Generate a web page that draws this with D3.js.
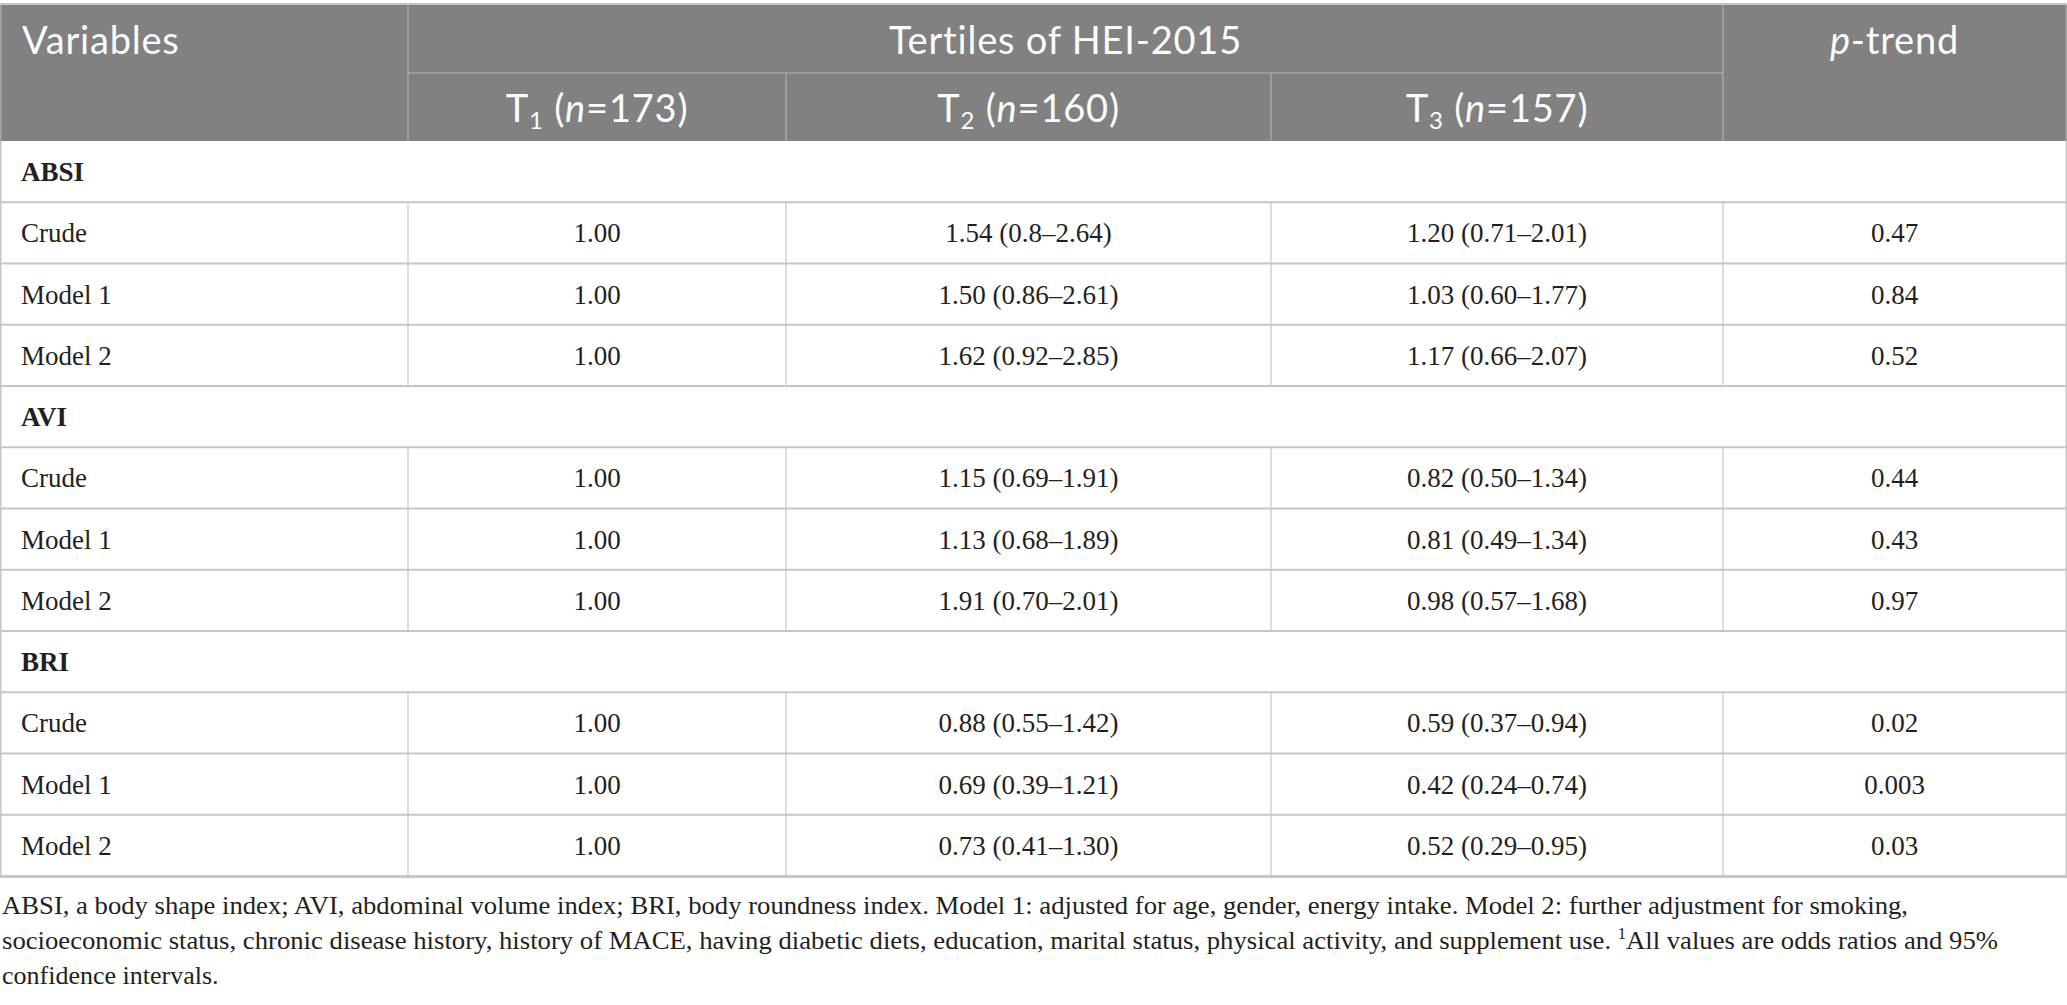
<!DOCTYPE html>
<html>
<head>
<meta charset="utf-8">
<script src="https://cdn.jsdelivr.net/npm/d3@7"></script>
<style>
  html, body { margin: 0; padding: 0; background: #fff; }
</style>
</head>
<body>
<div id="table"></div>
<script>
const groups = ["ABSI", "AVI", "BRI"];
const models = ["Crude", "Model 1", "Model 2"];
const tertiles = ["1", "2", "3"];
const tertileN = [173, 160, 157];
const t1Ref = ["1.00", "1.00", "1.00", "1.00", "1.00", "1.00", "1.00", "1.00", "1.00"];
const t2OR = ["1.54 (0.8–2.64)", "1.50 (0.86–2.61)", "1.62 (0.92–2.85)",
              "1.15 (0.69–1.91)", "1.13 (0.68–1.89)", "1.91 (0.70–2.01)",
              "0.88 (0.55–1.42)", "0.69 (0.39–1.21)", "0.73 (0.41–1.30)"];
const t3OR = ["1.20 (0.71–2.01)", "1.03 (0.60–1.77)", "1.17 (0.66–2.07)",
              "0.82 (0.50–1.34)", "0.81 (0.49–1.34)", "0.98 (0.57–1.68)",
              "0.59 (0.37–0.94)", "0.42 (0.24–0.74)", "0.52 (0.29–0.95)"];
const pTrend = ["0.47", "0.84", "0.52", "0.44", "0.43", "0.97", "0.02", "0.003", "0.03"];
const footLines = [
    "ABSI, a body shape index; AVI, abdominal volume index; BRI, body roundness index. Model 1: adjusted for age, gender, energy intake. Model 2: further adjustment for smoking,",
    "socioeconomic status, chronic disease history, history of MACE, having diabetic diets, education, marital status, physical activity, and supplement use. |All values are odds ratios and 95%",
    "confidence intervals."
];

const W = 2067, H = 1005;
const sans = "Lato, 'Open Sans', sans-serif";
const serif = "'Liberation Serif', 'DejaVu Serif', serif";
const headBg = "#808180", headLine = "#a6a6a6", grid = "#c6c6c6", ink = "#231f20";

const svg = d3.select("#table")
    .append("svg")
    .attr("width", W)
    .attr("height", H)
    .attr("viewBox", `0 0 ${W} ${H}`);

// column edges
const colKeys = ["var", "t1", "t2", "t3", "p"];
const colEdge = [0, 408, 786, 1271, 1723, 2066];
const x0 = d3.scaleOrdinal().domain(colKeys).range(colEdge.slice(0, 5));
const x1 = d3.scaleOrdinal().domain(colKeys).range(colEdge.slice(1));
const xc = k => (x0(k) + x1(k)) / 2;

// body rows
const rows = [];
groups.forEach((g, gi) => {
    rows.push({id: g, section: true, label: g});
    models.forEach((m, mi) => {
        const i = gi * models.length + mi;
        rows.push({id: g + "-" + m, section: false, label: m,
                   t1: t1Ref[i], t2: t2OR[i], t3: t3OR[i], p: pTrend[i]});
    });
});

const headTop = 5, headMid = 73, headBot = 141;
const y = d3.scaleBand()
    .domain(rows.map(r => r.id))
    .range([headBot, 876]);

// header block
svg.append("line")
    .attr("x1", 0).attr("x2", W).attr("y1", 4).attr("y2", 4)
    .attr("stroke", "#c6c6c6").attr("stroke-width", 2);
svg.append("rect")
    .attr("x", 0).attr("y", headTop)
    .attr("width", W).attr("height", headBot - headTop)
    .attr("fill", headBg);

const hl = svg.append("g").attr("stroke", headLine).attr("stroke-width", 1.5);
hl.append("line").attr("x1", x0("t1")).attr("x2", x1("t3")).attr("y1", headMid).attr("y2", headMid);
[x0("t1"), x0("p")].forEach(xv => {
    hl.append("line").attr("x1", xv).attr("x2", xv).attr("y1", headTop).attr("y2", headBot);
});
[x0("t2"), x0("t3")].forEach(xv => {
    hl.append("line").attr("x1", xv).attr("x2", xv).attr("y1", headMid).attr("y2", headBot);
});
hl.append("line").attr("x1", 0.75).attr("x2", 0.75).attr("y1", headTop).attr("y2", headBot);
hl.append("line").attr("x1", W - 0.75).attr("x2", W - 0.75).attr("y1", headTop).attr("y2", headBot);

const headText = svg.append("g")
    .attr("font-family", sans)
    .attr("font-size", 38)
    .attr("letter-spacing", 0.8)
    .attr("fill", "#fcfcfc");

const row1 = (headTop + headMid) / 2 + 1, row2 = (headMid + headBot) / 2 + 1;

headText.append("text")
    .attr("x", 22).attr("y", row1).attr("dy", "0.36em")
    .text("Variables");

headText.append("text")
    .attr("x", (x0("t1") + x1("t3")) / 2).attr("y", row1).attr("dy", "0.36em")
    .attr("text-anchor", "middle")
    .text("Tertiles of HEI-2015");

const pt = headText.append("text")
    .attr("x", xc("p")).attr("y", row1).attr("dy", "0.36em")
    .attr("text-anchor", "middle");
pt.append("tspan").attr("font-style", "italic").text("p");
pt.append("tspan").text("-trend");

tertiles.forEach((t, i) => {
    const k = colKeys[i + 1];
    const tx = headText.append("text")
        .attr("x", xc(k)).attr("y", row2).attr("dy", "0.36em")
        .attr("text-anchor", "middle");
    tx.append("tspan").text("T");
    tx.append("tspan").attr("font-size", 24).attr("dy", 7).text(t);
    tx.append("tspan").attr("dy", -7).text(" (");
    tx.append("tspan").attr("font-style", "italic").text("n");
    tx.append("tspan").text("=" + tertileN[i] + ")");
});

// body grid
const bg = svg.append("g").attr("stroke", grid);
rows.forEach(r => {
    bg.append("line")
        .attr("x1", 0).attr("x2", W)
        .attr("y1", y(r.id) + y.bandwidth()).attr("y2", y(r.id) + y.bandwidth())
        .attr("stroke-width", 2);
    if (!r.section) {
        colKeys.slice(1).forEach(k => {
            bg.append("line")
                .attr("x1", x0(k)).attr("x2", x0(k))
                .attr("y1", y(r.id)).attr("y2", y(r.id) + y.bandwidth())
                .attr("stroke-width", 1.2);
        });
    }
});
bg.append("line").attr("x1", 0.75).attr("x2", 0.75).attr("y1", headBot).attr("y2", 876).attr("stroke-width", 1.5);
bg.append("line").attr("x1", W - 0.75).attr("x2", W - 0.75).attr("y1", headBot).attr("y2", 876).attr("stroke-width", 1.5);
bg.append("line").attr("x1", 0).attr("x2", W).attr("y1", 876.5).attr("y2", 876.5).attr("stroke-width", 3);

// body text
const body = svg.append("g")
    .attr("font-family", serif)
    .attr("font-size", 27)
    .attr("fill", ink);

rows.forEach(r => {
    const cy = y(r.id) + y.bandwidth() / 2;
    body.append("text")
        .attr("x", 21).attr("y", cy).attr("dy", "0.35em")
        .attr("font-weight", r.section ? "bold" : null)
        .text(r.label);
    if (r.section) return;
    ["t1", "t2", "t3", "p"].forEach(k => {
        body.append("text")
            .attr("x", xc(k)).attr("y", cy).attr("dy", "0.35em")
            .attr("text-anchor", "middle")
            .text(r[k]);
    });
});

// footnote
const foot = svg.append("g")
    .attr("font-family", serif)
    .attr("font-size", 26)
    .attr("fill", ink);
const footY = [914, 949, 984];
const footW = [1906, 1996, null];
footLines.forEach((line, i) => {
    const t = foot.append("text").attr("x", 2).attr("y", footY[i]);
    const parts = line.split("|");
    t.append("tspan").text(parts[0]);
    if (parts.length > 1) {
        t.append("tspan").attr("font-size", 16).attr("dy", -10).text("1");
        t.append("tspan").attr("dy", 10).text(parts[1]);
    }
    if (footW[i]) t.attr("textLength", footW[i]).attr("lengthAdjust", "spacingAndGlyphs");
});
</script>
</body>
</html>
